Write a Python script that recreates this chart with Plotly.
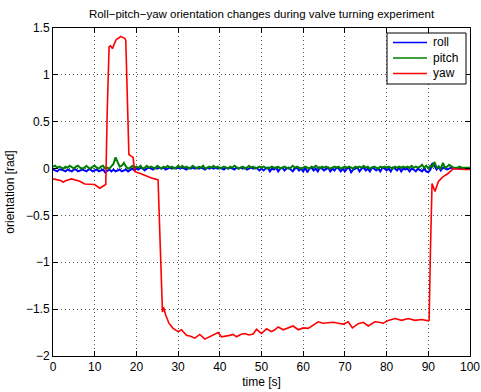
import numpy as np
import plotly.graph_objects as go

# ---------------- data ----------------
# roll & pitch sampled every 0.5 s from 0 to 100 s
t_rp = [i * 0.5 for i in range(201)]

roll = [
    -0.01, -0.02, -0.03, -0.01, -0.01, -0.02, -0.03, -0.01, -0.02, -0.03,
    -0.01, -0.01, -0.03, -0.02, -0.01, -0.02, -0.03, -0.01, -0.01, -0.03,
    -0.02, -0.01, -0.03, -0.02, -0.01, -0.04, -0.02, -0.01, -0.03, -0.01,
    -0.03, -0.02, -0.01, -0.03, -0.02, -0.01, -0.03, -0.01, 0.00, -0.02,
    0.00, -0.01, 0.01, 0.00, -0.02, 0.00, 0.01, 0.00, -0.01, 0.01,
    0.00, 0.01, 0.00, 0.01, -0.01, 0.00, 0.01, 0.00, 0.01, 0.00,
    0.01, 0.00, 0.01, 0.00, -0.01, 0.01, 0.00, 0.01, 0.00, 0.01,
    0.00, 0.01, 0.00, -0.01, 0.01, 0.00, 0.01, 0.00, 0.01, 0.00,
    0.01, 0.00, -0.01, 0.01, 0.00, 0.01, 0.00, -0.01, 0.01, 0.00,
    0.01, 0.00, 0.01, -0.01, 0.00, 0.01, 0.00, 0.01, 0.00, -0.02,
    0.00, -0.02, 0.00, 0.01, -0.03, 0.00, -0.01, 0.01, -0.03, 0.00,
    0.01, -0.02, 0.00, 0.01, -0.01, -0.03, 0.00, 0.01, -0.02, 0.00,
    -0.03, 0.01, -0.04, 0.00, 0.01, -0.02, 0.00, -0.03, 0.01, 0.00,
    -0.02, 0.00, 0.01, -0.03, 0.00, -0.02, 0.01, 0.00, -0.03, 0.00,
    -0.03, 0.00, 0.01, -0.04, -0.01, 0.00, 0.01, -0.03, 0.00, 0.01,
    -0.02, 0.00, -0.03, 0.01, 0.00, -0.02, 0.00, -0.03, 0.01, 0.00,
    -0.02, 0.00, -0.03, 0.01, 0.00, -0.02, 0.01, -0.03, 0.00, -0.01,
    0.00, -0.03, 0.00, -0.01, -0.03, 0.00, -0.02, -0.03, 0.00, -0.03,
    -0.04, -0.01, 0.06, 0.02, -0.01, 0.02, -0.02, 0.01, 0.00, -0.01,
    0.00, 0.01, 0.00, 0.00, 0.00, 0.00, 0.00, 0.00, 0.00, 0.00,
    0.00,
]

pitch = [
    0.02, 0.03, 0.01, 0.02, 0.01, 0.00, 0.02, 0.01, 0.03, 0.01,
    0.00, 0.02, 0.03, 0.01, 0.00, 0.01, 0.03, 0.01, 0.00, 0.02,
    0.03, 0.01, 0.00, 0.02, 0.03, 0.00, 0.01, 0.00, 0.03, 0.05,
    0.12, 0.06, 0.02, 0.03, 0.06, 0.02, 0.00, 0.01, 0.03, 0.01,
    0.02, 0.01, 0.03, 0.00, 0.01, 0.03, 0.01, 0.02, 0.01, 0.00,
    0.03, 0.01, 0.00, 0.02, 0.01, 0.03, 0.01, 0.02, 0.00, 0.01,
    0.03, 0.01, 0.03, 0.01, 0.02, 0.00, 0.01, 0.03, 0.01, 0.00,
    0.02, 0.01, 0.03, 0.00, 0.01, 0.02, 0.01, 0.03, 0.01, 0.02,
    0.00, 0.01, 0.02, 0.01, 0.00, 0.02, 0.01, 0.03, 0.01, 0.00,
    0.01, 0.02, 0.00, 0.01, 0.03, 0.01, 0.02, 0.00, 0.01, 0.02,
    0.01, 0.02, 0.01, 0.00, 0.01, 0.02, 0.01, 0.01, 0.02, 0.00,
    0.01, 0.02, 0.01, 0.00, 0.01, 0.03, 0.01, 0.02, 0.01, 0.00,
    0.01, 0.02, 0.01, 0.00, 0.02, 0.01, 0.03, 0.01, 0.00, 0.02,
    0.01, 0.02, 0.01, 0.00, 0.01, 0.02, 0.01, 0.02, 0.00, 0.01,
    0.02, 0.01, 0.02, 0.01, 0.00, 0.02, 0.01, 0.02, 0.01, 0.03,
    0.01, 0.02, 0.00, 0.01, 0.02, 0.01, 0.00, 0.02, 0.01, 0.02,
    0.01, 0.02, 0.01, 0.00, 0.02, 0.01, 0.02, 0.01, 0.02, 0.01,
    0.02, 0.01, 0.03, 0.01, 0.02, 0.01, 0.02, 0.04, 0.01, 0.03,
    0.00, 0.03, 0.02, 0.07, 0.01, 0.02, 0.00, 0.06, 0.01, 0.02,
    0.04, 0.02, 0.01, 0.01, 0.01, 0.02, 0.01, 0.01, 0.01, 0.01,
    0.01,
]

t_yaw = [
    0, 1, 2, 2.4, 3, 4.4, 5.5, 6.4, 7.6, 9, 10, 11.2, 12.0, 12.4, 12.65,
    13.0, 13.45, 13.8, 14.25, 14.7, 15.2, 15.7, 16.2, 16.7, 17.2, 17.45,
    17.8, 18.2, 18.8, 19.2, 19.6, 20.0, 20.8, 21.8, 22.8, 23.6, 24.4,
    25.2, 25.7, 26.25, 26.5, 27.0, 27.8, 28.8, 30.0, 30.8, 32.0, 33.0,
    34.0, 35.2, 36.4, 37.4, 38.4, 39.6, 40.4, 41.4, 42.4, 43.2, 44.0,
    45.0, 46.0, 47.0, 48.0, 48.8, 50.0, 51.2, 52.4, 53.2, 54.0, 55.2,
    56.4, 57.6, 58.8, 60.0, 61.2, 62.4, 63.6, 64.8, 66.0, 67.2, 68.4,
    69.6, 70.8, 71.8, 73.2, 74.4, 75.6, 77.2, 78.2, 79.2, 80.4, 82.0,
    83.6, 85.2, 86.8, 88.4, 90.0, 90.2, 90.5, 90.9, 91.6, 92.4, 93.0,
    93.6, 94.8, 96.0, 97.0, 98.0, 99.0, 100.0,
]

yaw = [
    -0.11, -0.12, -0.13, -0.145, -0.13, -0.11, -0.12, -0.135, -0.165, -0.165,
    -0.17, -0.21, -0.19, -0.175, -0.17,
    0.60, 1.30, 1.31, 1.28, 1.33, 1.38, 1.39, 1.41, 1.40, 1.39, 1.37,
    0.80, 0.15, 0.13, 0.12, -0.03, -0.04, -0.05, -0.07, -0.085, -0.10, -0.11,
    -0.12, -0.80, -1.53, -1.48, -1.56, -1.65, -1.705, -1.74, -1.72, -1.78, -1.79,
    -1.81, -1.77, -1.82, -1.80, -1.78, -1.75, -1.795, -1.79, -1.78, -1.77, -1.795,
    -1.77, -1.76, -1.775, -1.765, -1.715, -1.76, -1.71, -1.74, -1.72, -1.69, -1.72,
    -1.70, -1.68, -1.72, -1.70, -1.705, -1.67, -1.635, -1.65, -1.645, -1.64, -1.65,
    -1.66, -1.635, -1.70, -1.655, -1.64, -1.68, -1.635, -1.64, -1.65, -1.62, -1.60,
    -1.62, -1.60, -1.62, -1.61, -1.625, -1.62, -0.90, -0.16, -0.245, -0.14, -0.11,
    -0.085, -0.05, 0.00, -0.005, -0.01, -0.01, -0.01,
]

series_names = ["roll", "pitch", "yaw"]
series_colors = ["#0000ff", "#008000", "#ff0000"]
series_widths = [2.0, 2.0, 1.6]

x_tickvals = [0, 10, 20, 30, 40, 50, 60, 70, 80, 90, 100]
x_ticktext = ["0", "10", "20", "30", "40", "50", "60", "70", "80", "90", "100"]
y_tickvals = [1.5, 1, 0.5, 0, -0.5, -1, -1.5, -2]
y_ticktext = ["1.5", "1", "0.5", "0", "\u22120.5", "\u22121", "\u22121.5", "\u22122"]

title_text = "Roll\u2212pitch\u2212yaw orientation changes during valve turning experiment"
x_title = "time [s]"
y_title = "orientation [rad]"

# ---------------- figure ----------------
W, H = 481, 392
ML, MR, MT, MB = 53, 11, 28, 36
PW, PH = W - ML - MR, H - MT - MB

fig = go.Figure()
xs = [t_rp, t_rp, t_yaw]
ys = [roll, pitch, yaw]
for name, color, wd, x, y in zip(series_names, series_colors, series_widths, xs, ys):
    fig.add_trace(go.Scatter(x=x, y=y, mode="lines", name=name, showlegend=False,
                             line=dict(color=color, width=wd)))

font_family = "Liberation Sans, Arial, Helvetica, sans-serif"
axis_common = dict(
    showline=True, linecolor="black", linewidth=1, mirror="ticks",
    ticks="inside", ticklen=5, tickcolor="black", tickwidth=1,
    showgrid=True, gridcolor="#555555", gridwidth=1, griddash="1px,3px",
    zeroline=False, automargin=False,
    tickfont=dict(size=12, color="black", family=font_family),
)

# legend box drawn in pixel-derived paper coordinates (layout only)
def px_x(p):
    return (p - ML) / PW

def px_y(p):
    return 1 - (p - MT) / PH

shapes = [dict(type="rect", xref="paper", yref="paper",
               x0=px_x(387), x1=px_x(466), y0=px_y(84), y1=px_y(33),
               line=dict(color="black", width=1), fillcolor="white", layer="above")]
annotations = []
for i, (name, color) in enumerate(zip(series_names, series_colors)):
    yy = 42.5 + i * 15.5
    shapes.append(dict(type="line", xref="paper", yref="paper",
                       x0=px_x(393), x1=px_x(427), y0=px_y(yy), y1=px_y(yy),
                       line=dict(color=color, width=1.5), layer="above"))
    annotations.append(dict(text=name, xref="paper", yref="paper",
                            x=px_x(431), y=px_y(yy), xanchor="left", yanchor="middle",
                            showarrow=False, font=dict(size=12, color="black", family=font_family)))

fig.update_layout(
    width=W, height=H,
    margin=dict(l=ML, r=MR, t=MT, b=MB),
    paper_bgcolor="white", plot_bgcolor="white",
    font=dict(family=font_family, color="black", size=12),
    title=dict(text=title_text, x=0.5, xref="paper", xanchor="center",
               y=1 - 14 / H, yref="container", yanchor="middle",
               font=dict(size=11.5, color="black", family=font_family)),
    xaxis=dict(range=[0, 100], tickvals=x_tickvals, ticktext=x_ticktext,
               title=dict(text=x_title, standoff=4, font=dict(size=12)), **axis_common),
    yaxis=dict(range=[-2, 1.5], tickvals=y_tickvals, ticktext=y_ticktext,
               title=dict(text=y_title, standoff=8, font=dict(size=12)), **axis_common),
    shapes=shapes,
    annotations=annotations,
    showlegend=False,
)

fig.write_html("out.html",
               config={"displayModeBar": False},
               post_script="document.body.style.margin='0';document.body.style.overflow='hidden';")
